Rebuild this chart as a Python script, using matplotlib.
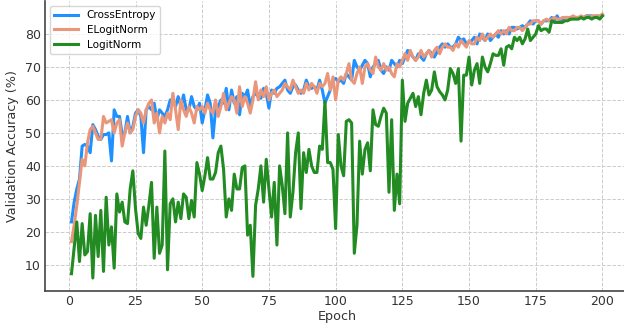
import matplotlib
matplotlib.use("Agg")
import matplotlib.pyplot as plt
import numpy as np

epochs = list(range(1, 201))

cross_entropy = [
    23, 29, 33, 36, 46, 46.5, 46, 44, 52.5, 51,
    49, 48, 49.5, 49.5, 50, 41.5, 57, 55, 55, 49.5,
    50, 55, 50, 52, 56, 57, 55, 44, 57, 58,
    57, 59, 54, 57, 56, 55, 57, 60, 60, 58,
    61, 58, 61.5, 57, 57, 61, 58, 57, 59, 53,
    57, 61.5, 59, 48.5, 57, 58, 60, 59, 63.5, 57,
    63, 59, 61, 55.5, 62, 61, 63, 58, 61, 62,
    61, 60.5, 63.5, 62, 57.5, 63, 62, 63.5, 64, 65,
    66, 63, 62, 64, 64.5, 63, 62, 63, 66, 64,
    63.5, 64, 63, 66, 63, 59, 61, 63, 66, 66.5,
    65.5, 66, 65, 68, 67, 66, 72, 70, 69, 70.5,
    72, 71, 67, 70, 71, 72, 69, 68, 70, 69,
    72, 71, 70, 72, 71, 73, 75, 74, 73, 72,
    74, 73, 72, 74, 75, 74, 73, 74.5, 76, 77,
    76, 77, 76, 76, 77, 79, 78, 78.5, 77, 77.5,
    78, 79, 77, 80, 79, 78, 80, 78, 79, 80,
    79, 81, 80, 81, 80, 82, 82, 81.5, 82, 82.5,
    82, 83, 84, 83, 84, 84, 83, 84, 84, 84,
    85, 84, 85.5, 84, 84.5, 85, 85, 84.5, 85, 85,
    85, 85, 85, 85.5, 85.5, 85.5, 85, 85.5, 85, 85.5,
]

elogit_norm = [
    17, 22, 28, 35, 42, 40, 47, 51, 52, 50,
    48, 48, 55, 53, 53.5, 54, 50, 53, 54, 46,
    50, 53, 50, 51, 55, 57, 56, 53, 57, 59,
    60, 53, 56, 50, 55, 53, 56, 54, 62, 57,
    51, 60, 57, 55, 58, 56, 53, 58, 57, 58,
    56, 59, 57, 56, 60, 55, 58, 62, 57, 59,
    61, 60, 56, 64, 58, 61, 59, 56, 60, 65.5,
    60, 63, 61, 64, 60, 62, 63, 61, 62, 63,
    65, 64, 63, 66, 64, 62, 63, 62, 65, 63,
    65, 64, 62, 65, 64, 65, 68, 63, 67, 60,
    66, 67, 66, 68, 71, 66, 65, 68, 70, 65,
    70, 71, 69, 68, 73, 70, 69, 71, 69, 70,
    68, 67, 71, 70, 72, 74, 72, 75, 73, 72,
    73, 75, 73, 74, 75, 73, 75, 76, 74, 76,
    77, 76, 76, 75, 77, 76, 78, 77, 76, 78,
    77, 77, 79, 78, 80, 78, 79, 80, 79, 80,
    81, 80, 81, 80, 82, 81, 81, 82, 82, 81,
    82, 83, 83, 84, 84, 84, 83, 84, 84.5, 84,
    84.5, 85, 84.5, 84.5, 85, 85, 85, 85, 85.5, 85,
    85, 85.5, 85, 85.5, 85, 85.5, 85.5, 85.5, 85.5, 86,
]

logit_norm = [
    7.3, 15, 23, 11, 22.5, 13, 14, 25.5, 6, 25,
    12.5, 26.5, 8, 30.5, 16, 21.5, 9, 31.5, 26, 29,
    23, 22.5, 33, 38.5, 27, 19.5, 18, 27.5, 22, 28,
    35, 12, 27.5, 13.5, 16, 44.5, 8.5, 28.5, 30, 23,
    29, 24, 31.5, 30.5, 24, 29.5, 24.5, 41, 37.5, 32.5,
    37, 42.5, 36, 36, 38, 44, 46, 39, 24.5, 30,
    26.5, 37.5, 33, 33, 39.5, 40, 19, 22, 6.5, 28,
    33, 40, 29, 42, 33, 24.5, 35, 16, 40, 34,
    25.5, 50, 24.5, 32, 44, 50, 27, 44, 38, 45,
    40, 38, 38, 46, 45, 59.5, 41, 41, 39, 21,
    49.5, 40, 37, 53.5, 54, 53, 13.5, 22, 47.5, 37.5,
    45, 47, 38.5, 57, 52.5, 52, 55, 57.5, 56, 32,
    54, 26.5, 37.5, 28.5, 66, 53.5, 59, 60.5, 62, 58,
    61, 55.5, 62, 66, 61.5, 63, 68.5, 64, 62.5, 61.5,
    60, 63, 69.5, 68, 65, 69.5, 47.5, 67.5, 67.5, 73,
    64.5, 69, 71, 65, 73, 70, 68.5, 71, 74, 73.5,
    73.5, 75.5, 70.5, 76, 76.5, 75.5, 79, 78, 79, 77,
    78.5, 81.5, 78, 79, 80, 82.5, 81, 81.5, 81.5, 80.5,
    84, 83.5, 83.5, 83.5, 83.5, 84, 84, 84.5, 84.5, 84.5,
    84.5, 85, 84.5, 85, 85, 84.5, 85, 85, 84.5, 85.5,
]

series_labels = ["CrossEntropy", "ELogitNorm", "LogitNorm"]
series_colors = ["#1E90FF", "#E9967A", "#228B22"]
x_ticks = [0, 25, 50, 75, 100, 125, 150, 175, 200]
y_ticks = [10, 20, 30, 40, 50, 60, 70, 80]

fig = plt.figure(figsize=(6.24, 3.25), dpi=100)
ax = fig.add_axes([0.072, 0.104, 0.936, 0.893])

for vals, lab, col in zip([cross_entropy, elogit_norm, logit_norm], series_labels, series_colors):
    ax.plot(epochs, vals, color=col, linewidth=2.2, label=lab)

ax.set_xticks(x_ticks)
ax.set_yticks(y_ticks)
ax.grid(True, linestyle="--", color="#cccccc", linewidth=0.7)
ax.set_axisbelow(True)
for s in ["top", "right"]:
    ax.spines[s].set_visible(False)
for s in ["left", "bottom"]:
    ax.spines[s].set_color("#444444")
    ax.spines[s].set_linewidth(1.2)
ax.tick_params(axis="both", labelsize=9, colors="#333333", length=0, pad=3)
ax.set_xlabel("Epoch", fontsize=9.2, color="#333333", labelpad=1)
ax.set_ylabel("Validation Accuracy (%)", fontsize=9.2, color="#333333", labelpad=4)
leg = ax.legend(loc="upper left", fontsize=7.5, frameon=True, handlelength=2.3,
                borderaxespad=0.5, labelspacing=0.45)
leg.get_frame().set_edgecolor("#cccccc")

fig.savefig("out.png", dpi=100)
